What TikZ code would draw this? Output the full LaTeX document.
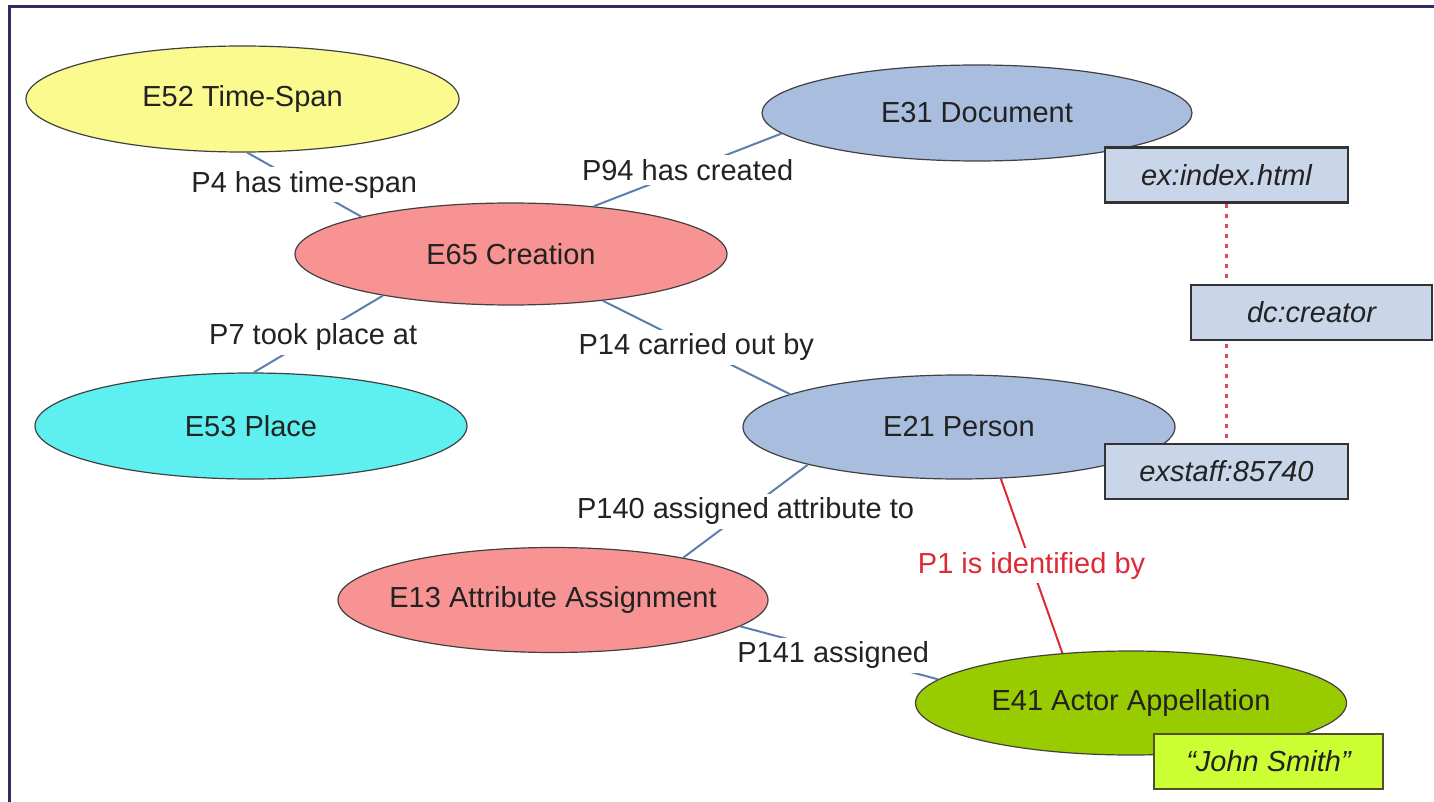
\documentclass[tikz,border=0pt]{standalone}
\usepackage{fontspec}
\setmainfont{Liberation Sans}
\usetikzlibrary{shapes.geometric}

\definecolor{cyellow}{HTML}{FAFA8E}
\definecolor{csalmon}{HTML}{F89393}
\definecolor{csteel}{HTML}{A9BEDF}
\definecolor{ccyan}{HTML}{5EF0F0}
\definecolor{cgreen}{HTML}{99CC00}
\definecolor{cboxblue}{HTML}{C9D5E9}
\definecolor{cboxlime}{HTML}{CCFF33}
\definecolor{cedge}{HTML}{5D7FAD}
\definecolor{cidred}{HTML}{DE2A35}
\definecolor{cframe}{HTML}{2F2F5F}
\definecolor{cink}{HTML}{222222}

\tikzset{
  ell/.style={ellipse, draw=black!75, line width=0.6pt, inner sep=0pt,
    font=\fontsize{14.5}{17}\selectfont, text=cink},
  lit/.style={rectangle, draw=black!80, line width=1.1pt, fill=cboxblue, inner sep=0pt,
    minimum width=121.5pt, minimum height=27.5pt,
    font=\fontsize{14.5}{17}\selectfont\itshape, text=cink},
  edge/.style={draw=cedge, line width=1pt},
  idline/.style={draw=cidred, line width=1pt},
  lbl/.style={fill=white, inner sep=2pt, font=\fontsize{14.5}{17}\selectfont, text=cink},
  samelink/.style={draw=cidred!85, line width=1.1pt, dash pattern=on 2pt off 3pt},
  frameline/.style={draw=cframe, line width=1.5pt}
}

\begin{document}
\begin{tikzpicture}[x=0.5pt, y=-0.5pt]
\useasboundingbox (0,0) rectangle (1434,802);

% outer frame (top and left edges)
\draw[frameline] (1434,7) -- (9.5,7) -- (9.5,802);

% CRM entities
\node[ell, fill=cyellow, minimum width=216.5pt, minimum height=53pt] (e52) at (242.5,99) {\makebox[0pt]{E52 Time-Span}};
\node[ell, fill=csalmon, minimum width=216pt, minimum height=51pt] (e65) at (511,254) {\makebox[0pt]{E65 Creation}};
\node[ell, fill=csteel, minimum width=215pt, minimum height=48pt] (e31) at (977,113) {\makebox[0pt]{E31 Document}};
\node[ell, fill=ccyan, minimum width=216pt, minimum height=53pt] (e53) at (251,426) {\makebox[0pt]{E53 Place}};
\node[ell, fill=csteel, minimum width=216pt, minimum height=52pt] (e21) at (959,427) {\makebox[0pt]{E21 Person}};
\node[ell, fill=csalmon, minimum width=215pt, minimum height=52.5pt] (e13) at (553,600) {\makebox[0pt]{E13 Attribute Assignment}};
\node[ell, fill=cgreen, minimum width=215.5pt, minimum height=52pt] (e41) at (1131,703) {\makebox[0pt]{E41 Actor Appellation}};

% identifiers and literal
\node[lit] (idx) at (1226.5,175) {ex:index.html};
\node[lit] (staff) at (1226.5,471.5) {exstaff:85740};
\draw[samelink] (idx.south) -- (staff.north);
\node[lit, minimum width=120.5pt] (dc) at (1311.5,312.5) {dc:creator};
\node[lit, fill=cboxlime, draw=black!55!olive, minimum width=114.5pt] (name) at (1268.5,761.5) {“John Smith”};

% properties
\draw[edge] (e52.-85) -- node[lbl] {P4 has time-span} (e65.166.5);
\draw[edge] (e65.30.3) -- node[lbl] {P94 has created} (e31.186.7);
\draw[edge] (e65.-162.5) -- node[lbl, pos=0.54] {P7 took place at} (e53.87);
\draw[edge] (e65.-27) -- node[lbl] {P14 carried out by} (e21.169);
\draw[edge] (e21.-166.8) -- node[lbl] {P140 assigned attribute to} (e13.18.3);
\draw[idline] (e21.-51.2) -- node[lbl, text=cidred] {P1 is identified by} (e41.144.7);
\draw[edge] (e13.-8.6) -- node[lbl, pos=0.47, yshift=-2pt] {P141 assigned} (e41.173.2);
\end{tikzpicture}
\end{document}
